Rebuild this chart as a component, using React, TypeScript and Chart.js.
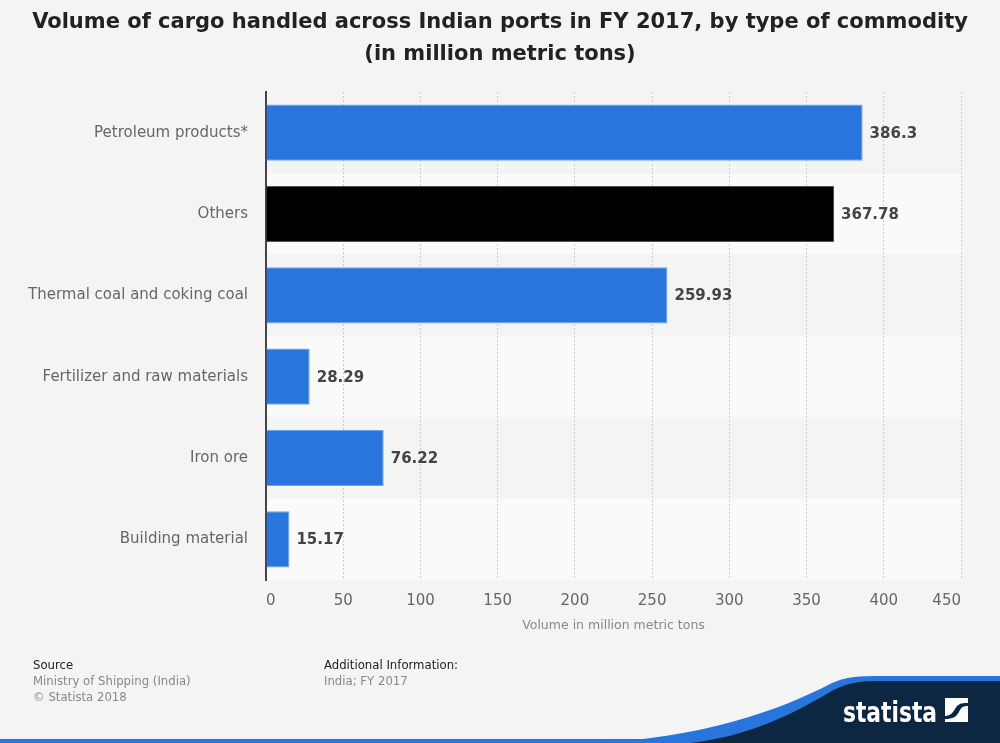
import React, { useEffect, useRef } from "react";
import { Chart, registerables } from "chart.js";

Chart.register(...registerables);

const categories = [
  "Petroleum products*",
  "Others",
  "Thermal coal and coking coal",
  "Fertilizer and raw materials",
  "Iron ore",
  "Building material",
];
const values = [386.3, 367.78, 259.93, 28.29, 76.22, 15.17];
const barColors = ["#2876dd", "#000000", "#2876dd", "#2876dd", "#2876dd", "#2876dd"];
const borderColors = ["#6fa3ea", "#555555", "#6fa3ea", "#6fa3ea", "#6fa3ea", "#6fa3ea"];
const valueLabels = ["386.3", "367.78", "259.93", "28.29", "76.22", "15.17"];
const xMax = 450;
const xStep = 50;

const FONT = "'DejaVu Sans', sans-serif";

const bandsPlugin = {
  id: "bands",
  beforeDraw(chart: any) {
    const { ctx, chartArea } = chart;
    const n = categories.length;
    const h = (chartArea.bottom - chartArea.top) / n;
    ctx.save();
    for (let i = 0; i < n; i++) {
      ctx.fillStyle = i % 2 === 1 ? "#fafafa" : "#f4f4f4";
      ctx.fillRect(chartArea.left, chartArea.top + i * h, chartArea.right - chartArea.left, h);
    }
    ctx.restore();
  },
};

const valueLabelPlugin = {
  id: "valueLabels",
  afterDatasetsDraw(chart: any) {
    const { ctx } = chart;
    const meta = chart.getDatasetMeta(0);
    ctx.save();
    ctx.font = `bold 15px ${FONT}`;
    ctx.fillStyle = "#444444";
    ctx.textBaseline = "middle";
    ctx.textAlign = "left";
    meta.data.forEach((bar: any, i: number) => {
      ctx.fillText(valueLabels[i], bar.x + 7, bar.y + 1);
    });
    ctx.restore();
  },
};

function ChartView() {
  const ref = useRef<HTMLCanvasElement | null>(null);
  useEffect(() => {
    if (!ref.current) return;
    const chart = new Chart(ref.current, {
      type: "bar",
      data: {
        labels: categories,
        datasets: [
          {
            data: values,
            backgroundColor: barColors,
            borderColor: borderColors,
            borderWidth: 1,
            categoryPercentage: 1,
            barPercentage: 0.69,
          },
        ],
      },
      options: {
        indexAxis: "y",
        animation: false,
        responsive: false,
        maintainAspectRatio: false,
        layout: { padding: { top: 92, right: 39, bottom: 0, left: 0 } },
        plugins: {
          legend: { display: false },
          tooltip: { enabled: false },
          title: { display: false },
        },
        scales: {
          x: {
            min: 0,
            max: xMax,
            ticks: {
              stepSize: xStep,
              color: "#666666",
              font: { family: FONT, size: 15 },
              padding: 12,
              align: "inner",
            },
            grid: {
              color: "#cccccc",
              lineWidth: 1,
              drawTicks: false,
            },
            border: { display: false, dash: [2, 2] },
            title: {
              display: true,
              text: "Volume in million metric tons",
              color: "#888888",
              font: { family: FONT, size: 12.5 },
              padding: { top: 0, bottom: 110 },
            },
            afterFit(scale: any) {
              scale.height = 163;
            },
          } as any,
          y: {
            ticks: {
              color: "#666666",
              font: { family: FONT, size: 15 },
              padding: 18,
            },
            grid: { display: false, drawTicks: false },
            border: { display: true, color: "#444444", width: 2 },
            afterFit(scale: any) {
              scale.width = 266;
            },
          } as any,
        },
      },
      plugins: [bandsPlugin, valueLabelPlugin],
    });
    return () => chart.destroy();
  }, []);
  return <canvas ref={ref} width={1000} height={743} style={{ display: "block", width: 1000, height: 743 }} />;
}

export default function App() {
  const footFont = "'DejaVu Sans Condensed', 'DejaVu Sans', sans-serif";
  return (
    <div
      style={{
        position: "fixed",
        left: 0,
        top: 0,
        width: 1000,
        height: 743,
        background: "#f4f4f4",
        overflow: "hidden",
        fontFamily: FONT,
      }}
    >
      <ChartView />
      <div
        style={{
          position: "absolute",
          left: 0,
          top: 5,
          width: 1000,
          textAlign: "center",
          fontWeight: "bold",
          fontSize: 21,
          lineHeight: "32px",
          color: "#222222",
        }}
      >
        <div>Volume of cargo handled across Indian ports in FY 2017, by type of commodity</div>
        <div>(in million metric tons)</div>
      </div>
      <div style={{ position: "absolute", left: 33, top: 657, fontFamily: footFont, fontSize: 13, lineHeight: "16px" }}>
        <div style={{ color: "#222" }}>Source</div>
        <div style={{ color: "#888" }}>Ministry of Shipping (India)</div>
        <div style={{ color: "#888" }}>© Statista 2018</div>
      </div>
      <div style={{ position: "absolute", left: 324, top: 657, fontFamily: footFont, fontSize: 13, lineHeight: "16px" }}>
        <div style={{ color: "#222" }}>Additional Information:</div>
        <div style={{ color: "#888" }}>India; FY 2017</div>
      </div>
      <svg
        width={1000}
        height={743}
        style={{ position: "absolute", left: 0, top: 0, pointerEvents: "none" }}
      >
        <rect x={0} y={739} width={1000} height={4} fill="#2876dd" />
        <path d="M590,743 C700,739 780,710 830,684 C845,677 855,676 880,676 L1000,676 L1000,743 Z" fill="#2876dd" />
        <path d="M690,743 C745,737 790,716 830,692 C845,684 855,681 880,681 L1000,681 L1000,743 Z" fill="#0d2742" />
        <text
          x={843}
          y={722}
          fill="#ffffff"
          fontFamily="'DejaVu Sans Condensed', 'DejaVu Sans', sans-serif"
          fontWeight="bold"
          fontSize={29}
          textLength={94}
          lengthAdjust="spacingAndGlyphs"
        >
          statista
        </text>
        <rect x={945} y={698} width={23} height={24} fill="#ffffff" />
        <path d="M945,716 C951,716 953,712 955,709 C958,704 960,703 968,703 L968,706 C962,706 961,708 959,712 C956,717 953,719 945,719 Z" fill="#0d2742" />
      </svg>
    </div>
  );
}
